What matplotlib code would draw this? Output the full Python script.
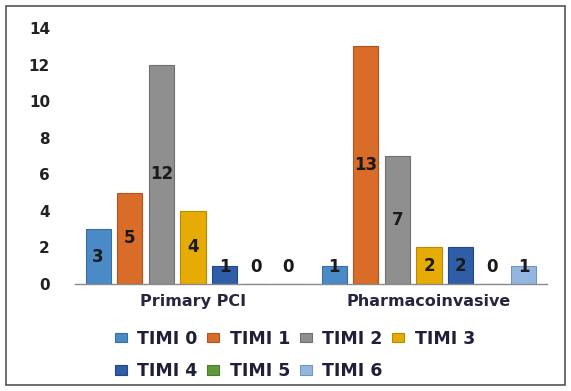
import matplotlib
matplotlib.use("Agg")
import matplotlib.pyplot as plt
import numpy as np
from matplotlib.patches import Rectangle

categories = ["Primary PCI", "Pharmacoinvasive"]
series = ["TIMI 0", "TIMI 1", "TIMI 2", "TIMI 3", "TIMI 4", "TIMI 5", "TIMI 6"]
values = {
    "TIMI 0": [3, 1],
    "TIMI 1": [5, 13],
    "TIMI 2": [12, 7],
    "TIMI 3": [4, 2],
    "TIMI 4": [1, 2],
    "TIMI 5": [0, 0],
    "TIMI 6": [0, 1],
}
yticks = [0, 2, 4, 6, 8, 10, 12, 14]

colors = ["#4A8AC6", "#D86C28", "#8F8F8F", "#E6AC05", "#2F5DA8", "#5F9A3A", "#93B7E0"]
edges = ["#3A6E9E", "#B05520", "#707070", "#B88A04", "#234786", "#4A7A2E", "#7496BC"]

fig = plt.figure(figsize=(5.71, 3.91), dpi=100)
ax = fig.add_axes([75/571, 1-284/391, 472/571, 256/391])

x = np.arange(len(categories))
slot = 0.134
width = 0.106
n = len(series)
for i, s in enumerate(series):
    vals = values[s]
    pos = x + (i - (n - 1) / 2) * slot
    ax.bar(pos, vals, width=width, color=colors[i], edgecolor=edges[i], linewidth=0.8, label=s, zorder=2)
    for p, v in zip(pos, vals):
        ax.text(p, max(v / 2, 0.93), str(v), ha="center", va="center",
                fontsize=12, fontweight="bold", color="#1a1a1a", zorder=3)

ax.set_xlim(-0.5, 1.5)
ax.set_ylim(0, 14)
ax.set_yticks(yticks)
ax.set_yticklabels([str(t) for t in yticks], fontsize=11, fontweight="bold", color="#222222")
ax.set_xticks(x)
ax.set_xticklabels(categories, fontsize=11.5, fontweight="bold", color="#262640")
ax.tick_params(axis="both", length=0)
ax.tick_params(axis="y", pad=18)
ax.tick_params(axis="x", pad=7)
for sp in ["top", "right", "left"]:
    ax.spines[sp].set_visible(False)
ax.spines["bottom"].set_color("#8a8a8a")
ax.spines["bottom"].set_linewidth(1.0)

handles, labels = ax.get_legend_handles_labels()
order = [0, 4, 1, 5, 2, 6, 3]
leg = fig.legend([handles[k] for k in order], [labels[k] for k in order], ncol=4, loc="upper left",
                 bbox_to_anchor=(106/571, 1-321/391), frameon=False,
                 prop={"size": 12.5, "weight": "bold"},
                 handlelength=0.7, handleheight=0.5, handletextpad=0.6,
                 columnspacing=0.55, labelspacing=0.85, borderpad=0)
for t in leg.get_texts():
    t.set_color("#1f1f3a")

fig.patches.append(Rectangle((6/571, 6/391), 1-12/571, 1-12/391, transform=fig.transFigure,
                             fill=False, edgecolor="#555555", linewidth=1.2))

fig.savefig("out.png", dpi=100)
